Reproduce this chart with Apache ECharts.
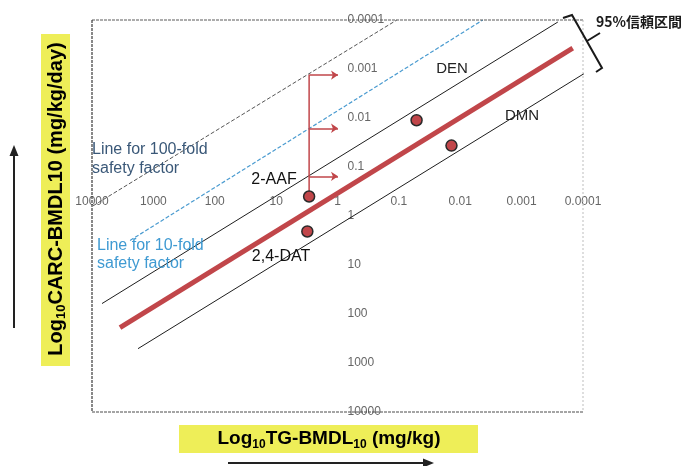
<!DOCTYPE html>
<html><head><meta charset="utf-8">
<script src="https://cdn.jsdelivr.net/npm/echarts@6/dist/echarts.min.js"></script>
<style>html,body{margin:0;padding:0;background:#fff}#c{width:684px;height:466px}</style>
</head><body><div id="c"></div>
<script>
// ---- data ----
const xTickLabels = ['0.0001','0.001','0.01','0.1','1','10','100','1000','10000'];
const yTickLabels = ['0.0001','0.001','0.01','0.1','1','10','100','1000','10000'];
const chemicals = ['2-AAF','2,4-DAT','DEN','DMN'];
const tgBmdl   = [2.9, 3.1, 0.0515, 0.0139];     // x: TG-BMDL10 (mg/kg)
const carcBmdl = [0.40, 2.07, 0.0111, 0.0366];   // y: CARC-BMDL10 (mg/kg/day)
const regressionX   = [3500, 0.000147];
const regressionY   = [190, 0.000374];
const upperCIX      = [6870, 0.000257];
const upperCIY      = [61.2, 0.00011];
const lowerCIX      = [1780, 0.0000774];
const lowerCIY      = [510, 0.00105];
const tenFoldX      = [2400, 0.00429];
const tenFoldY      = [3.16, 0.0001];
const hundredFoldX  = [9600, 0.108];
const hundredFoldY  = [0.62, 0.0001];
const shiftFromX    = 2.9;
const shiftToX      = 0.98;
const shiftLevelsY  = [0.00133, 0.0162, 0.155];

const zip = (xs, ys) => xs.map((x, i) => [x, ys[i]]);
const fmt = labels => v => labels[Math.round(Math.log10(v)) + 4];

const FONT = 'Liberation Sans, Arial, sans-serif';
const RED = '#c1464a';

const chart = echarts.init(document.getElementById('c'), null, {renderer: 'canvas'});

const lineSeries = (xs, ys, color, width, type, clip) => ({
  type: 'line', data: zip(xs, ys), showSymbol: false, symbol: 'none', silent: true,
  clip: clip, lineStyle: {color: color, width: width, type: type}, z: 2
});

const arrowData = shiftLevelsY.map(y => ({coords: [[shiftFromX, y], [shiftToX, y]]}));

const richFor = size => ({
  b: {fontSize: size, fontWeight: 'bold', fontFamily: FONT, color: '#141414', lineHeight: size + 4},
  s: {fontSize: Math.round(size * 0.65), fontWeight: 'bold', fontFamily: FONT, color: '#141414', lineHeight: Math.round(size * 0.65), verticalAlign: 'bottom'}
});

chart.setOption({
  animation: false,
  backgroundColor: '#ffffff',
  grid: {left: 92, top: 20, width: 491, height: 392, show: false},
  xAxis: {
    type: 'log', logBase: 10, min: 0.0001, max: 10000, interval: 1, inverse: true,
    position: 'top', offset: -196,
    axisLine: {show: false}, axisTick: {show: false}, splitLine: {show: false},
    axisLabel: {interval: 0, margin: 8, fontSize: 12, color: '#666666', fontFamily: FONT,
      showMinLabel: true, showMaxLabel: true, formatter: fmt(xTickLabels)}
  },
  yAxis: {
    type: 'log', logBase: 10, min: 0.0001, max: 10000, interval: 1, inverse: true,
    position: 'right', offset: -245.5,
    axisLine: {show: false}, axisTick: {show: false}, splitLine: {show: false},
    axisLabel: {interval: 0, margin: 10, fontSize: 12, color: '#666666', fontFamily: FONT,
      align: 'left', showMinLabel: true, showMaxLabel: true, formatter: fmt(yTickLabels)}
  },
  series: [
    lineSeries(hundredFoldX, hundredFoldY, '#555555', 1, [4, 2], true),
    lineSeries(tenFoldX, tenFoldY, '#4a9bd0', 1.2, [4, 2], true),
    lineSeries(upperCIX, upperCIY, '#1e1e1e', 1, 'solid', false),
    lineSeries(lowerCIX, lowerCIY, '#1e1e1e', 1, 'solid', false),
    lineSeries(regressionX, regressionY, RED, 5, 'solid', false),
    {
      type: 'line', silent: true, symbol: 'none', showSymbol: false, z: 3,
      data: [[tgBmdl[0], carcBmdl[0]], [shiftFromX, shiftLevelsY[0]]],
      lineStyle: {color: RED, width: 1.5}
    },
    {
      type: 'lines', coordinateSystem: 'cartesian2d', silent: true, z: 3,
      symbol: ['none', 'arrow'], symbolSize: 7,
      lineStyle: {color: RED, width: 1.5, opacity: 1},
      data: arrowData
    },
    {
      type: 'scatter', name: 'chemicals', z: 5, symbol: 'circle', symbolSize: 11,
      data: zip(tgBmdl, carcBmdl),
      itemStyle: {color: RED, borderColor: '#2a2a2a', borderWidth: 1.5, opacity: 1}
    }
  ],
  graphic: [
    // plot frame
    {type: 'line', shape: {x1: 92, y1: 20, x2: 583, y2: 20}, style: {stroke: '#5a5a5a', lineWidth: 1.2, lineDash: [3, 1]}, z: 10},
    {type: 'line', shape: {x1: 92, y1: 20, x2: 92, y2: 412}, style: {stroke: '#3a3a3a', lineWidth: 1.2, lineDash: [3, 1]}, z: 10},
    {type: 'line', shape: {x1: 92, y1: 412, x2: 583, y2: 412}, style: {stroke: '#4a4a4a', lineWidth: 1, lineDash: [3, 1]}, z: 10},
    {type: 'line', shape: {x1: 583, y1: 20, x2: 583, y2: 412}, style: {stroke: '#bdbdbd', lineWidth: 1, lineDash: [2, 2]}, z: 10},
    // annotations
    {type: 'text', x: 452, y: 69, style: {text: 'DEN', font: '15px ' + FONT, fill: '#222', align: 'center', verticalAlign: 'middle'}, z: 20},
    {type: 'text', x: 522, y: 116, style: {text: 'DMN', font: '15px ' + FONT, fill: '#222', align: 'center', verticalAlign: 'middle'}, z: 20},
    {type: 'text', x: 274, y: 180, style: {text: '2-AAF', font: '16px ' + FONT, fill: '#111', align: 'center', verticalAlign: 'middle'}, z: 20},
    {type: 'text', x: 281, y: 257, style: {text: '2,4-DAT', font: '16px ' + FONT, fill: '#111', align: 'center', verticalAlign: 'middle'}, z: 20},
    {type: 'text', x: 92, y: 159, style: {text: 'Line for 100-fold\nsafety factor', font: '16px ' + FONT, fill: '#3a5878', align: 'left', verticalAlign: 'middle', lineHeight: 19}, z: 20},
    {type: 'text', x: 97, y: 255, style: {text: 'Line for 10-fold\nsafety factor', font: '16px ' + FONT, fill: '#3f9ad2', align: 'left', verticalAlign: 'middle', lineHeight: 18}, z: 20},
    {type: 'text', x: 596, y: 22, style: {text: '95%信頼区間', font: 'bold 14px "Noto Sans CJK JP", sans-serif', fill: '#1a1a1a', align: 'left', verticalAlign: 'middle'}, z: 20},
    // bracket for 95% CI
    {type: 'polyline', shape: {points: [[563, 18], [572, 15], [602, 68], [596, 72]]}, style: {stroke: '#1a1a1a', lineWidth: 2, fill: null}, z: 20},
    {type: 'line', shape: {x1: 587, y1: 41, x2: 600, y2: 33}, style: {stroke: '#1a1a1a', lineWidth: 2}, z: 20},
    // axis title boxes
    {type: 'rect', shape: {x: 179, y: 425, width: 299, height: 28}, style: {fill: '#eeee58'}, z: 15},
    {type: 'text', x: 329, y: 439, style: {rich: richFor(19), text: '{b|Log}{s|10}{b|TG-BMDL}{s|10}{b| (mg/kg)}', align: 'center', verticalAlign: 'middle'}, z: 20},
    {type: 'rect', shape: {x: 41, y: 34, width: 29, height: 332}, style: {fill: '#eeee58'}, z: 15},
    {type: 'text', x: 56, y: 199, rotation: Math.PI / 2, style: {rich: richFor(20), text: '{b|Log}{s|10}{b|CARC-BMDL10 (mg/kg/day)}', align: 'center', verticalAlign: 'middle'}, z: 20},
    // direction arrows
    {type: 'line', shape: {x1: 14, y1: 328, x2: 14, y2: 154}, style: {stroke: '#222', lineWidth: 2}, z: 20},
    {type: 'polygon', shape: {points: [[9.5, 156], [18.5, 156], [14, 145]]}, style: {fill: '#222'}, z: 20},
    {type: 'line', shape: {x1: 228, y1: 463, x2: 424, y2: 463}, style: {stroke: '#222', lineWidth: 2}, z: 20},
    {type: 'polygon', shape: {points: [[423, 458.5], [423, 467.5], [434, 463]]}, style: {fill: '#222'}, z: 20}
  ]
});
</script>
</body></html>
